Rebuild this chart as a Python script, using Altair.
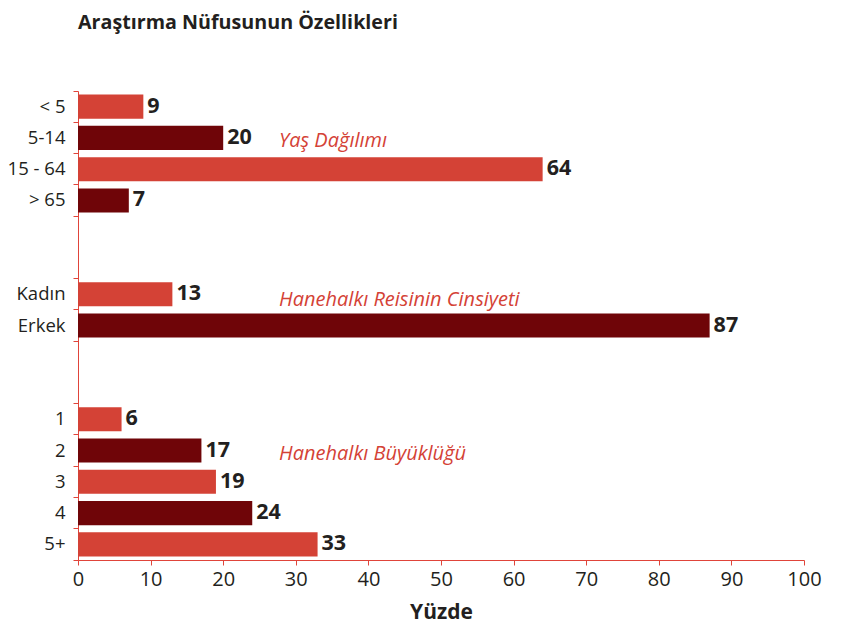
import altair as alt
import pandas as pd

# ---- data ----
categories = ["< 5", "5-14", "15 - 64", "> 65", "Kadın", "Erkek", "1", "2", "3", "4", "5+"]
values = [9, 20, 64, 7, 13, 87, 6, 17, 19, 24, 33]
shades = ["light", "dark", "light", "dark", "light", "dark", "light", "dark", "light", "dark", "light"]
row_order = ["< 5", "5-14", "15 - 64", "> 65", "gap1a", "gap1b", "Kadın", "Erkek",
             "gap2a", "gap2b", "1", "2", "3", "4", "5+"]
x_ticks = list(range(0, 101, 10))
group_labels = ["Yaş Dağılımı", "Hanehalkı Reisinin Cinsiyeti", "Hanehalkı Büyüklüğü"]
group_rows = ["5-14", "Kadın", "2"]
group_x = [27.7, 27.7, 27.7]

LIGHT = "#d44236"
DARK = "#6f0508"
AXIS_RED = "#e0443a"
INK = "#231f20"
FONT = "Open Sans"

df = pd.DataFrame({"category": categories, "value": values, "shade": shades})
ann = pd.DataFrame({"label": group_labels, "row": group_rows, "x": group_x})

xscale = alt.Scale(domain=[0, 100], nice=False)
yscale = alt.Scale(domain=row_order, paddingInner=0, paddingOuter=0)

x_axis = alt.Axis(values=x_ticks, grid=False, domainColor=AXIS_RED, tickColor=AXIS_RED,
                  tickSize=5, labelFontSize=20, labelColor=INK, labelFont=FONT, labelFlush=False,
                  labelPadding=4, title="Yüzde", titleFont=FONT, titleFontSize=21,
                  titleFontWeight="bold", titleColor=INK, titlePadding=12)


def xe(field):
    return alt.X(field, scale=xscale, axis=x_axis, title="Yüzde")


label_axis = alt.Axis(ticks=False, domain=False, labelFontSize=18.5, labelColor=INK, labelFont=FONT,
                      labelPadding=13, title=None, orient="left",
                      labelExpr="indexof(datum.value, 'gap') == 0 ? '' : datum.value")

bars = alt.Chart(df).mark_bar(height={"band": 0.77}).encode(
    x=xe("value:Q"),
    y=alt.Y("category:N", sort=row_order, scale=yscale, axis=label_axis),
    color=alt.Color("shade:N", scale=alt.Scale(domain=["light", "dark"], range=[LIGHT, DARK]),
                    legend=None),
)

tick_axis_top = alt.Axis(labels=False, domain=True, domainColor=AXIS_RED, ticks=True,
                         tickColor=AXIS_RED, tickSize=5, bandPosition=0, title=None, orient="left",
                         tickOpacity={"condition": {"test": "datum.value == 'gap1b' || datum.value == 'gap2b'",
                                                    "value": 0}, "value": 1})
ticks_a = alt.Chart(df).mark_bar(opacity=0).encode(
    x=xe("value:Q"),
    y=alt.Y("category:N", sort=row_order, scale=yscale, axis=tick_axis_top),
)

tick_axis_end = alt.Axis(labels=False, domain=False, ticks=True, tickColor=AXIS_RED, tickSize=5,
                         bandPosition=1, title=None, orient="left",
                         tickOpacity={"condition": {"test": "datum.value == '5+'", "value": 1}, "value": 0})
ticks_b = alt.Chart(df).mark_bar(opacity=0).encode(
    x=xe("value:Q"),
    y=alt.Y("category:N", sort=row_order, scale=yscale, axis=tick_axis_end),
)

value_text = alt.Chart(df).mark_text(align="left", baseline="middle", dx=4, fontSize=21.5,
                                     fontWeight="bold", font=FONT, color=INK).encode(
    x=xe("value:Q"),
    y=alt.Y("category:N", sort=row_order, scale=yscale, axis=None),
    text="value:Q",
)

ann_main = alt.Chart(ann).transform_filter(alt.datum.row != "Kadın").mark_text(
    align="left", baseline="middle", dy=3, fontSize=20, fontStyle="italic", font=FONT, color=LIGHT
).encode(
    x=xe("x:Q"),
    y=alt.Y("row:N", sort=row_order, scale=yscale, axis=None),
    text="label:N",
)
ann_mid = alt.Chart(ann).transform_filter(alt.datum.row == "Kadın").mark_text(
    align="left", baseline="middle", dy=6, fontSize=20, fontStyle="italic", font=FONT, color=LIGHT
).encode(
    x=xe("x:Q"),
    y=alt.Y("row:N", sort=row_order, scale=yscale, axis=None),
    text="label:N",
)

chart = alt.layer(bars, ticks_a, ticks_b, value_text, ann_main, ann_mid).resolve_axis(
    y="independent"
).properties(
    width=726,
    height=469,
    autosize=alt.AutoSizeParams(type="none"),
    padding={"left": 70, "top": 83, "right": 31, "bottom": 66},
    title=alt.Title("Araştırma Nüfusunun Özellikleri", anchor="start", frame="group", fontSize=19.7,
                    fontWeight="bold", font=FONT, color=INK, offset=58),
).configure_view(stroke=None)

chart.save("out.html", embed_options={"renderer": "svg", "actions": False})
